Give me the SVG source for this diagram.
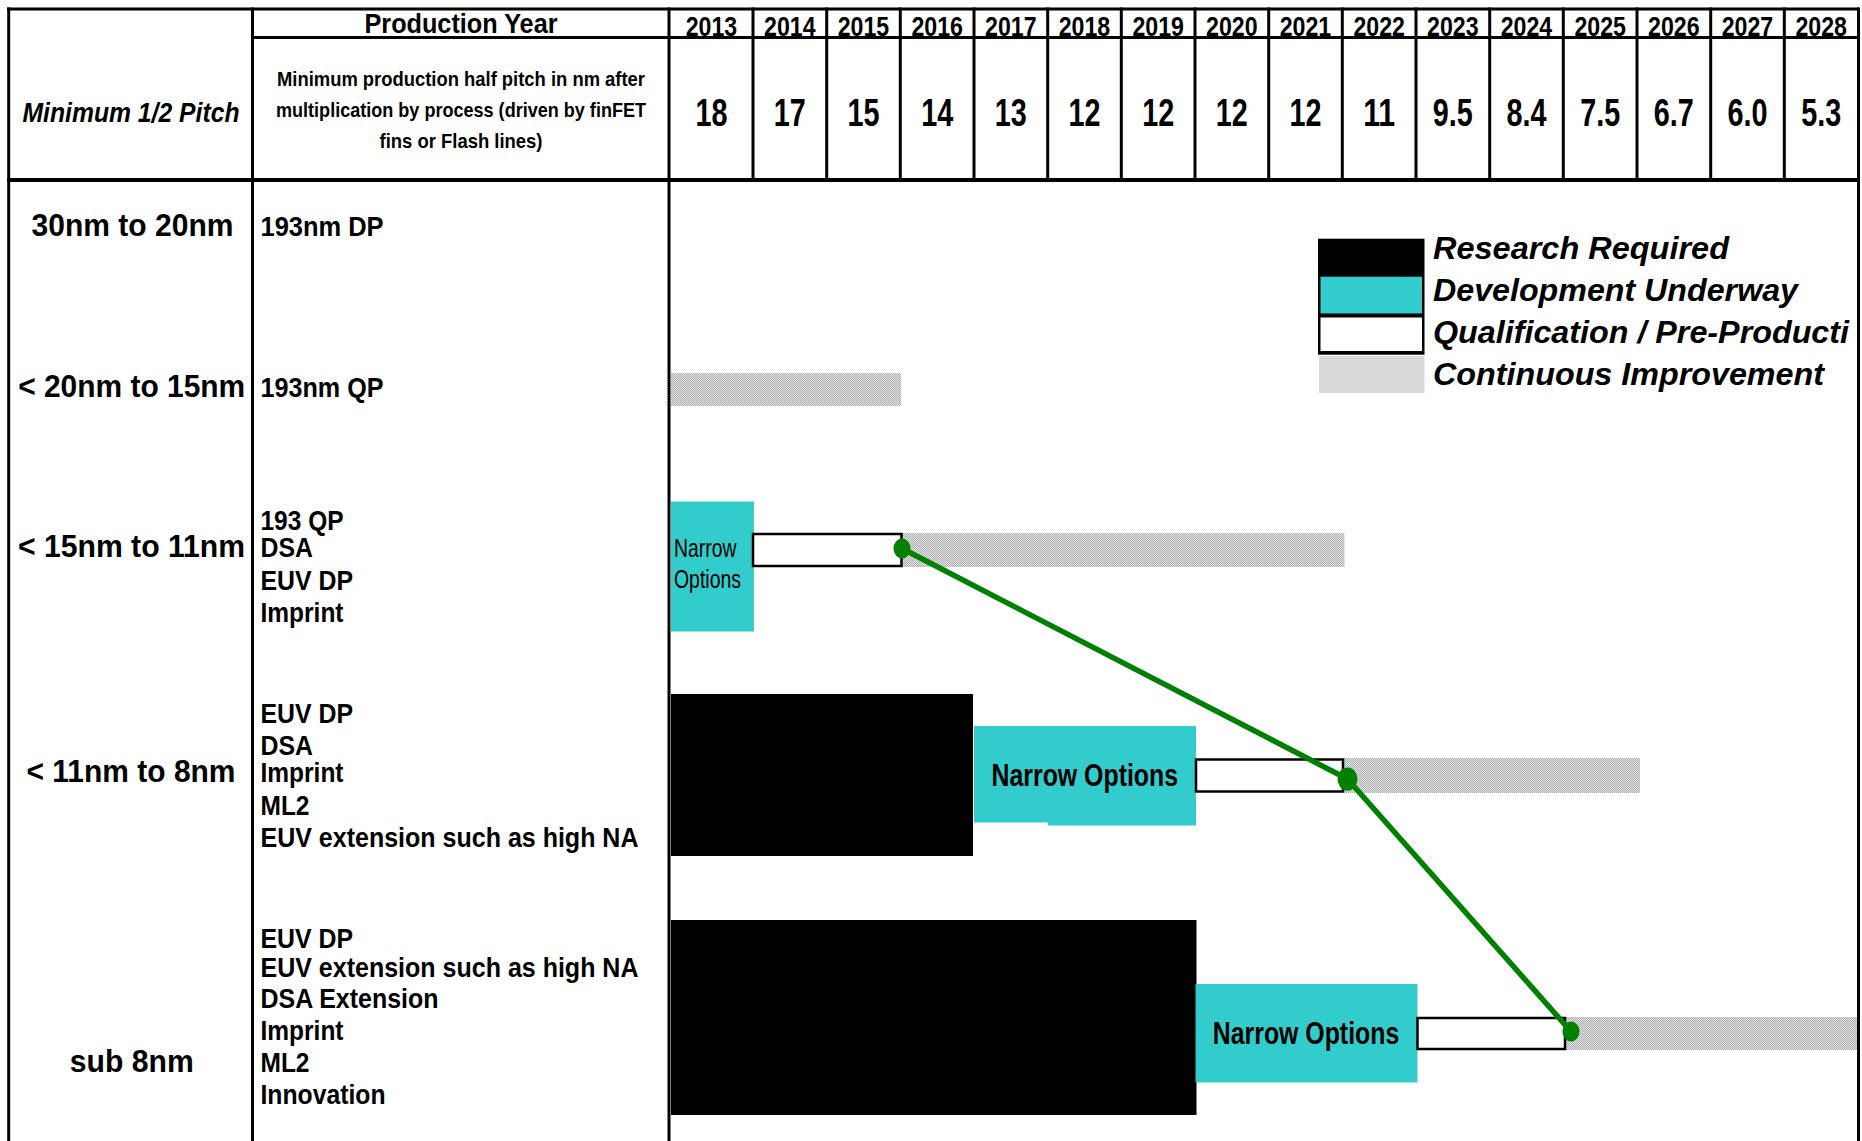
<svg xmlns="http://www.w3.org/2000/svg" width="1862" height="1141" viewBox="0 0 1862 1141">
<defs>
<pattern id="dots" width="2" height="2" patternUnits="userSpaceOnUse">
<rect width="2" height="2" fill="#e2e2e2"/>
<rect width="1" height="1" fill="#b0b0b0"/>
<rect x="1" y="1" width="1" height="1" fill="#b0b0b0"/>
</pattern>
</defs>
<style>
.t{font-family:"Liberation Sans Narrow","Liberation Sans",Arial,sans-serif;font-weight:bold;fill:#000}
.r{font-weight:normal}
.i{font-style:italic}
.m{text-anchor:middle}
.lg{font-family:"Liberation Sans",Arial,sans-serif;font-weight:bold;font-style:italic;font-size:32px;fill:#000}
.ln{stroke:#000;stroke-width:3;fill:none}
.lt{stroke:#000;stroke-width:4;fill:none}
.cy{fill:#33cccc}
.bk{fill:#000}
.gr{fill:url(#dots)}
.wb{fill:#fff;stroke:#000;stroke-width:2.5}
.yr{font-size:28px}
.vl{font-size:39px}
.rl{font-size:32px}
.c2{font-size:28.5px}
</style>
<rect width="1862" height="1141" fill="#fff"/>

<g id="bars">
<rect class="gr" x="671" y="373" width="230" height="33"/>
<rect id="row3-narrow" class="cy" x="671" y="501.5" width="83" height="130"/>
<rect class="gr" x="901.5" y="533" width="443" height="34"/>
<rect class="wb" x="753" y="534" width="148.5" height="32"/>
<rect class="bk" x="671" y="694" width="302" height="162"/>
<rect class="cy" x="974" y="726" width="222" height="96.5"/>
<rect class="cy" x="1048" y="726" width="148" height="99.5"/>
<rect class="gr" x="1343" y="758" width="297" height="35"/>
<rect class="wb" x="1196" y="759.5" width="147" height="32"/>
<rect class="bk" x="671" y="920" width="525.5" height="195"/>
<rect class="cy" x="1195.5" y="984" width="222" height="98.5"/>
<rect class="gr" x="1565" y="1017" width="292" height="33"/>
<rect class="wb" x="1417.5" y="1018" width="147.5" height="31"/>
</g>

<g id="grid">
<line class="ln" x1="7" y1="9" x2="1859.5" y2="9"/>
<line class="ln" x1="252.5" y1="37.5" x2="1858" y2="37.5"/>
<line class="lt" x1="7" y1="180" x2="1860" y2="180"/>
<line class="ln" x1="8.7" y1="7.5" x2="8.7" y2="1141"/>
<line class="ln" x1="252.5" y1="7.5" x2="252.5" y2="1141"/>
<line class="ln" x1="669" y1="7.5" x2="669" y2="1141"/>
<line class="ln" x1="1858.5" y1="7.5" x2="1858.5" y2="1141"/>
<line class="ln" x1="753" y1="7.5" x2="753" y2="180"/>
<line class="ln" x1="826.7" y1="7.5" x2="826.7" y2="180"/>
<line class="ln" x1="900.3" y1="7.5" x2="900.3" y2="180"/>
<line class="ln" x1="974" y1="7.5" x2="974" y2="180"/>
<line class="ln" x1="1047.7" y1="7.5" x2="1047.7" y2="180"/>
<line class="ln" x1="1121.3" y1="7.5" x2="1121.3" y2="180"/>
<line class="ln" x1="1195" y1="7.5" x2="1195" y2="180"/>
<line class="ln" x1="1268.7" y1="7.5" x2="1268.7" y2="180"/>
<line class="ln" x1="1342.3" y1="7.5" x2="1342.3" y2="180"/>
<line class="ln" x1="1416" y1="7.5" x2="1416" y2="180"/>
<line class="ln" x1="1489.7" y1="7.5" x2="1489.7" y2="180"/>
<line class="ln" x1="1563.3" y1="7.5" x2="1563.3" y2="180"/>
<line class="ln" x1="1637" y1="7.5" x2="1637" y2="180"/>
<line class="ln" x1="1710.7" y1="7.5" x2="1710.7" y2="180"/>
<line class="ln" x1="1784.3" y1="7.5" x2="1784.3" y2="180"/>
</g>

<g id="header">
<text class="t i m" x="131" y="122" font-size="28" textLength="217" lengthAdjust="spacingAndGlyphs">Minimum 1/2 Pitch</text>
<text class="t m" x="461" y="33" font-size="28" textLength="193" lengthAdjust="spacingAndGlyphs">Production Year</text>
<text class="t m" x="461" y="86" font-size="21" textLength="368" lengthAdjust="spacingAndGlyphs">Minimum production half pitch in nm after</text>
<text class="t m" x="461" y="117" font-size="21" textLength="370" lengthAdjust="spacingAndGlyphs">multiplication by process (driven by finFET</text>
<text class="t m" x="461" y="148" font-size="21" textLength="163" lengthAdjust="spacingAndGlyphs">fins or Flash lines)</text>
</g>

<g id="years">
<text class="t m yr" x="711.5" y="35.5" textLength="51.5" lengthAdjust="spacingAndGlyphs">2013</text>
<text class="t m yr" x="789.8" y="35.5" textLength="51.5" lengthAdjust="spacingAndGlyphs">2014</text>
<text class="t m yr" x="863.5" y="35.5" textLength="51.5" lengthAdjust="spacingAndGlyphs">2015</text>
<text class="t m yr" x="937.2" y="35.5" textLength="51.5" lengthAdjust="spacingAndGlyphs">2016</text>
<text class="t m yr" x="1010.8" y="35.5" textLength="51.5" lengthAdjust="spacingAndGlyphs">2017</text>
<text class="t m yr" x="1084.5" y="35.5" textLength="51.5" lengthAdjust="spacingAndGlyphs">2018</text>
<text class="t m yr" x="1158.2" y="35.5" textLength="51.5" lengthAdjust="spacingAndGlyphs">2019</text>
<text class="t m yr" x="1231.8" y="35.5" textLength="51.5" lengthAdjust="spacingAndGlyphs">2020</text>
<text class="t m yr" x="1305.5" y="35.5" textLength="51.5" lengthAdjust="spacingAndGlyphs">2021</text>
<text class="t m yr" x="1379.2" y="35.5" textLength="51.5" lengthAdjust="spacingAndGlyphs">2022</text>
<text class="t m yr" x="1452.8" y="35.5" textLength="51.5" lengthAdjust="spacingAndGlyphs">2023</text>
<text class="t m yr" x="1526.5" y="35.5" textLength="51.5" lengthAdjust="spacingAndGlyphs">2024</text>
<text class="t m yr" x="1600.2" y="35.5" textLength="51.5" lengthAdjust="spacingAndGlyphs">2025</text>
<text class="t m yr" x="1673.8" y="35.5" textLength="51.5" lengthAdjust="spacingAndGlyphs">2026</text>
<text class="t m yr" x="1747.5" y="35.5" textLength="51.5" lengthAdjust="spacingAndGlyphs">2027</text>
<text class="t m yr" x="1821.2" y="35.5" textLength="51.5" lengthAdjust="spacingAndGlyphs">2028</text>
</g>

<g id="values">
<text class="t m vl" x="711.5" y="125.5" textLength="32" lengthAdjust="spacingAndGlyphs">18</text>
<text class="t m vl" x="789.8" y="125.5" textLength="32" lengthAdjust="spacingAndGlyphs">17</text>
<text class="t m vl" x="863.5" y="125.5" textLength="32" lengthAdjust="spacingAndGlyphs">15</text>
<text class="t m vl" x="937.2" y="125.5" textLength="32" lengthAdjust="spacingAndGlyphs">14</text>
<text class="t m vl" x="1010.8" y="125.5" textLength="32" lengthAdjust="spacingAndGlyphs">13</text>
<text class="t m vl" x="1084.5" y="125.5" textLength="32" lengthAdjust="spacingAndGlyphs">12</text>
<text class="t m vl" x="1158.2" y="125.5" textLength="32" lengthAdjust="spacingAndGlyphs">12</text>
<text class="t m vl" x="1231.8" y="125.5" textLength="32" lengthAdjust="spacingAndGlyphs">12</text>
<text class="t m vl" x="1305.5" y="125.5" textLength="32" lengthAdjust="spacingAndGlyphs">12</text>
<text class="t m vl" x="1379.2" y="125.5" textLength="32" lengthAdjust="spacingAndGlyphs">11</text>
<text class="t m vl" x="1452.8" y="125.5" textLength="40" lengthAdjust="spacingAndGlyphs">9.5</text>
<text class="t m vl" x="1526.5" y="125.5" textLength="40" lengthAdjust="spacingAndGlyphs">8.4</text>
<text class="t m vl" x="1600.2" y="125.5" textLength="40" lengthAdjust="spacingAndGlyphs">7.5</text>
<text class="t m vl" x="1673.8" y="125.5" textLength="40" lengthAdjust="spacingAndGlyphs">6.7</text>
<text class="t m vl" x="1747.5" y="125.5" textLength="40" lengthAdjust="spacingAndGlyphs">6.0</text>
<text class="t m vl" x="1821.2" y="125.5" textLength="40" lengthAdjust="spacingAndGlyphs">5.3</text>
</g>

<g id="row1">
<text class="t m rl" x="132.5" y="236" textLength="202" lengthAdjust="spacingAndGlyphs">30nm to 20nm</text>
<text class="t c2" x="260.5" y="236" textLength="123" lengthAdjust="spacingAndGlyphs">193nm DP</text>
</g>
<g id="row2">
<text class="t m rl" x="131.7" y="396.5" textLength="227" lengthAdjust="spacingAndGlyphs">&lt; 20nm to 15nm</text>
<text class="t c2" x="260.5" y="396.5" textLength="123" lengthAdjust="spacingAndGlyphs">193nm QP</text>
</g>
<g id="row3">
<text class="t m rl" x="131.5" y="556.5" textLength="227" lengthAdjust="spacingAndGlyphs">&lt; 15nm to 11nm</text>
<text class="t c2" x="260.5" y="530" textLength="83" lengthAdjust="spacingAndGlyphs">193 QP</text>
<text class="t c2" x="260.5" y="557" textLength="52.5" lengthAdjust="spacingAndGlyphs">DSA</text>
<text class="t c2" x="260.5" y="590" textLength="92.6" lengthAdjust="spacingAndGlyphs">EUV DP</text>
<text class="t c2" x="260.5" y="621.5" textLength="83" lengthAdjust="spacingAndGlyphs">Imprint</text>
<text class="t r" x="674" y="556.7" font-size="25" textLength="62.4" lengthAdjust="spacingAndGlyphs">Narrow</text>
<text class="t r" x="674" y="588.3" font-size="25" textLength="67" lengthAdjust="spacingAndGlyphs">Options</text>
</g>
<g id="row4">
<text class="t m rl" x="131" y="782" textLength="209" lengthAdjust="spacingAndGlyphs">&lt; 11nm to 8nm</text>
<text class="t c2" x="260.5" y="722.7" textLength="92.6" lengthAdjust="spacingAndGlyphs">EUV DP</text>
<text class="t c2" x="260.5" y="755" textLength="52.5" lengthAdjust="spacingAndGlyphs">DSA</text>
<text class="t c2" x="260.5" y="782" textLength="83" lengthAdjust="spacingAndGlyphs">Imprint</text>
<text class="t c2" x="260.5" y="815" textLength="49" lengthAdjust="spacingAndGlyphs">ML2</text>
<text class="t c2" x="260.5" y="847" textLength="378" lengthAdjust="spacingAndGlyphs">EUV extension such as high NA</text>
<text class="t m" x="1084.8" y="786" font-size="31" textLength="186.5" lengthAdjust="spacingAndGlyphs">Narrow Options</text>
</g>
<g id="row5">
<text class="t m rl" x="131.8" y="1071.5" textLength="124" lengthAdjust="spacingAndGlyphs">sub 8nm</text>
<text class="t c2" x="260.5" y="948" textLength="92.6" lengthAdjust="spacingAndGlyphs">EUV DP</text>
<text class="t c2" x="260.5" y="976.5" textLength="378" lengthAdjust="spacingAndGlyphs">EUV extension such as high NA</text>
<text class="t c2" x="260.5" y="1008" textLength="178" lengthAdjust="spacingAndGlyphs">DSA Extension</text>
<text class="t c2" x="260.5" y="1040" textLength="83" lengthAdjust="spacingAndGlyphs">Imprint</text>
<text class="t c2" x="260.5" y="1071.5" textLength="49" lengthAdjust="spacingAndGlyphs">ML2</text>
<text class="t c2" x="260.5" y="1104" textLength="125" lengthAdjust="spacingAndGlyphs">Innovation</text>
<text class="t m" x="1306" y="1043.5" font-size="31" textLength="186.5" lengthAdjust="spacingAndGlyphs">Narrow Options</text>
</g>

<g id="legend">
<rect class="bk" x="1318" y="238.7" width="106.5" height="116"/>
<rect class="cy" x="1320.5" y="276.7" width="101.5" height="36.8"/>
<rect fill="#fff" x="1320.5" y="317.5" width="101.5" height="33.5"/>
<rect fill="#d9d9d9" x="1319" y="356" width="105.5" height="37"/>
<text class="lg" x="1433" y="258.5" textLength="296" lengthAdjust="spacingAndGlyphs">Research Required</text>
<text class="lg" x="1433" y="300.5" textLength="365" lengthAdjust="spacingAndGlyphs">Development Underway</text>
<text class="lg" x="1433" y="343" textLength="416" lengthAdjust="spacingAndGlyphs">Qualification / Pre-Producti</text>
<text class="lg" x="1433" y="385" textLength="391" lengthAdjust="spacingAndGlyphs">Continuous Improvement</text>
</g>

<g id="connectors">
<polyline points="902,548.5 1347.5,779 1571,1031.5" fill="none" stroke="#008000" stroke-width="5.5" stroke-linejoin="round"/>
<ellipse cx="902" cy="548.5" rx="8.5" ry="10" fill="#008000"/>
<ellipse cx="1347.5" cy="779" rx="10" ry="11.5" fill="#008000"/>
<ellipse cx="1571" cy="1031.5" rx="8.5" ry="10" fill="#008000"/>
</g>
</svg>
